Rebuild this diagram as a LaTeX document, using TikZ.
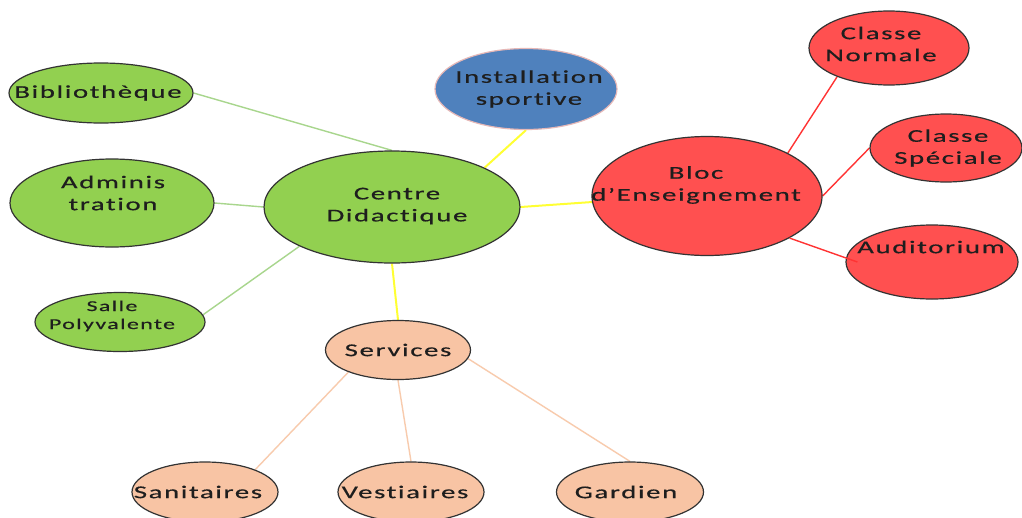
\documentclass[tikz,border=0pt]{standalone}
\usepackage{fontspec}
\usetikzlibrary{shapes.geometric,calc}
\newfontfamily\lblfont{Carlito}[FakeStretch=1.6,LetterSpace=9,FakeBold=0.5,Ligatures={NoCommon,NoRare,NoContextual}]
\definecolor{gfill}{HTML}{92D050}
\definecolor{bfill}{HTML}{4F81BD}
\definecolor{rfill}{HTML}{FF5050}
\definecolor{pfill}{HTML}{F8C4A4}
\definecolor{gline}{HTML}{A8D68D}
\definecolor{yline}{HTML}{FFFF33}
\definecolor{rline}{HTML}{FF3333}
\definecolor{pline}{HTML}{F8CBAD}
\definecolor{edge}{HTML}{333333}
\definecolor{bedge}{HTML}{E6B8B7}
\definecolor{tcol}{HTML}{1E1E1E}
\pgfdeclarelayer{bg}
\pgfsetlayers{bg,main}
\tikzset{
  ell/.style={ellipse, draw=edge, line width=1.2pt, inner sep=0pt},
  gell/.style={ell, fill=gfill},
  rell/.style={ell, fill=rfill},
  pell/.style={ell, fill=pfill},
  bell/.style={ell, fill=bfill, draw=bedge},
  txt/.style={font=\lblfont\fontsize{18}{22}\selectfont, align=center, text=tcol, inner sep=0pt},
  stxt/.style={font=\lblfont\fontsize{15}{18}\selectfont, align=center, text=tcol, inner sep=0pt},
  glink/.style={draw=gline, line width=1.4pt},
  ylink/.style={draw=yline, line width=2pt},
  rlink/.style={draw=rline, line width=1.4pt},
  plink/.style={draw=pline, line width=1.4pt},
}
\begin{document}
\begin{tikzpicture}[x=1pt,y=-1pt]
\useasboundingbox (0,0) rectangle (1022,517);
\clip (0,0) rectangle (1022,517);
% ellipses (geometry)
\path
  (101,93)  node[gell, minimum width=184, minimum height=60]  (bib)   {}
  (112,203) node[gell, minimum width=204, minimum height=88]  (adm)   {}
  (120,322) node[gell, minimum width=170, minimum height=59]  (salle) {}
  (392,207) node[gell, minimum width=256, minimum height=112] (cd)    {}
  (526,89)  node[bell, minimum width=182, minimum height=81]  (ins)   {}
  (707,196) node[rell, minimum width=230, minimum height=119] (bloc)  {}
  (889,48)  node[rell, minimum width=160, minimum height=74]  (cn)    {}
  (946,148) node[rell, minimum width=152, minimum height=68]  (cs)    {}
  (932,262) node[rell, minimum width=172, minimum height=74]  (aud)   {}
  (398,350) node[pell, minimum width=145, minimum height=59]  (serv)  {}
  (205,492) node[pell, minimum width=146, minimum height=60]  (san)   {}
  (411,492) node[pell, minimum width=146, minimum height=60]  (vest)  {}
  (630,492) node[pell, minimum width=147, minimum height=60]  (gard)  {};
% connectors
\begin{pgfonlayer}{bg}
\fill[white] (0,0) rectangle (1022,517);
\path[glink] (bib.east) -- (cd.north);
\path[glink] (adm.east) -- (cd.west);
\path[glink] (salle.5) -- (cd.203.5);
\path[ylink] (ins.south) -- (cd.23);
\path[ylink] (cd.east) -- (bloc.183);
\path[ylink] (cd.south) -- (serv.north);
\path[rlink] (bloc.28) -- (cn.209);
\path[rlink] (bloc.east) -- (cs.west);
\path[plink] (serv.204) -- (san.24);
\path[plink] (serv.south) -- (vest.north);
\path[plink] (serv.353) -- (gard.north);
\end{pgfonlayer}
\path[rlink] (bloc.333) -- ($(aud.west)+(12,0)$);
% texts
\node[txt]  (tbib)   at (98,93)   {Bibliothèque};
\node[txt]  (tadm)   at (113,193) {Adminis\\tration};
\node[stxt] (tsalle) at (112,316) {Salle\\Polyvalente};
\node[txt]  (tcd)    at (397,206) {Centre\\Didactique};
\node[txt]  (tins)   at (529,89)  {Installation\\sportive};
\node[txt]  (tbloc)  at (696,185) {Bloc\\d’Enseignement};
\node[txt]  (tcn)    at (881,44)  {Classe\\Normale};
\node[txt]  (tcs)    at (948,148) {Classe\\Spéciale};
\node[txt]  (taud)   at (931,247) {Auditorium};
\node[txt]  (tserv)  at (398,350) {Services};
\node[txt]  (tsan)   at (198,492) {Sanitaires};
\node[txt]  (tvest)  at (405,492) {Vestiaires};
\node[txt]  (tgard)  at (626,492) {Gardien};
\end{tikzpicture}
\end{document}
